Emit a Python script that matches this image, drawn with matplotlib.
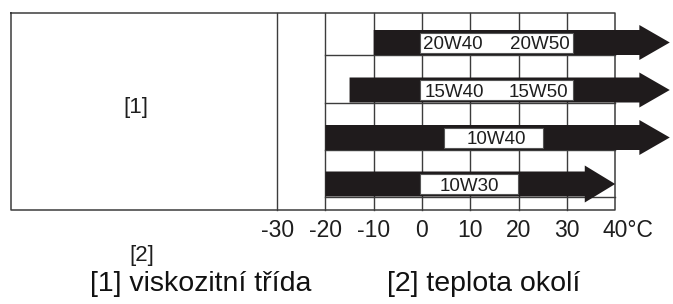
import matplotlib
matplotlib.use("Agg")
import matplotlib.pyplot as plt
import matplotlib.patches as patches

plt.rcParams['font.family'] = ['Liberation Sans', 'DejaVu Sans']

# Data
temps = [-30, -20, -10, 0, 10, 20, 30, 40]
tick_labels = ['-30', '-20', '-10', '0', '10', '20', '30', '40°C']
bar_start = [-10, -15, -20, -20]
bar_end = [51.3, 51.3, 51.3, 40]
bar_labels = [['20W40', '20W50'], ['15W40', '15W50'], ['10W40'], ['10W30']]
label_x = [[6.4, 24.4], [6.8, 24.2], [15.5], [9.9]]
box_x = [(-0.4, 31.3), (-0.4, 31.3), (4.6, 25.1), (-0.4, 19.9)]

# Layout (y in pixel-like units, top = 0)
row_bottom = [55, 102.5, 150, 196.5]
bar_h = 25
head_w = [35, 35, 35, 37]
head_len = 6.3
box_h = 20
frame_top, frame_bottom = 13, 210
frame_left = -85.1

dark = '#1f1b1c'
line_c = '#3c3c3c'
txt_c = '#1e1e1e'

fig = plt.figure(figsize=(6.73, 3.04), dpi=100)
ax = fig.add_axes([0, 0, 1, 1])
ax.set_xlim(-422 / 4.83, 251 / 4.83)
ax.set_ylim(304, 0)
ax.axis('off')

# frame
ax.plot([frame_left, 40, 40, frame_left, frame_left],
        [frame_top, frame_top, frame_bottom, frame_bottom, frame_top],
        color=line_c, lw=1.1, zorder=1)
# vertical grid lines
for t in temps[:-1]:
    ax.plot([t, t], [frame_top, frame_bottom], color=line_c, lw=1.0, zorder=1)
# horizontal grid lines
for yb in row_bottom:
    ax.plot([-20, 40], [yb, yb], color=line_c, lw=1.0, zorder=1)

# arrows with label boxes
for i in range(len(bar_start)):
    yc = row_bottom[i] - bar_h / 2
    ax.arrow(bar_start[i], yc, bar_end[i] - bar_start[i], 0,
             width=bar_h, head_width=head_w[i], head_length=head_len,
             length_includes_head=True, fc=dark, ec='none', zorder=2)
    x0, x1 = box_x[i]
    ax.add_patch(patches.Rectangle((x0, yc - box_h / 2), x1 - x0, box_h,
                                   fc='white', ec='#555555', lw=0.8, zorder=3))
    for lab, lx in zip(bar_labels[i], label_x[i]):
        ax.text(lx, yc + 6.8, lab, ha='center', va='baseline', fontsize=13.5,
                color=txt_c, zorder=4)

# tick labels
for t, lab in zip(temps, tick_labels):
    if lab.endswith('°C'):
        ax.annotate(lab, xy=(t, 237), xytext=(-9, 0), textcoords='offset points',
                    ha='left', va='baseline', fontsize=16.5, color=txt_c)
    else:
        ax.text(t, 237, lab, ha='center', va='baseline', fontsize=16.5, color=txt_c)

ax.text(-59.2, 113.5, '[1]', ha='center', va='baseline', fontsize=16, color=txt_c)
ax.text(-58.0, 261, '[2]', ha='center', va='baseline', fontsize=16, color=txt_c)
ax.text(-68.7, 291, '[1] viskozitní třída', ha='left', va='baseline', fontsize=20.5, color='#111111')
ax.text(-7.2, 291, '[2] teplota okolí', ha='left', va='baseline', fontsize=20.5, color='#111111')

fig.savefig('out.png', dpi=100)
